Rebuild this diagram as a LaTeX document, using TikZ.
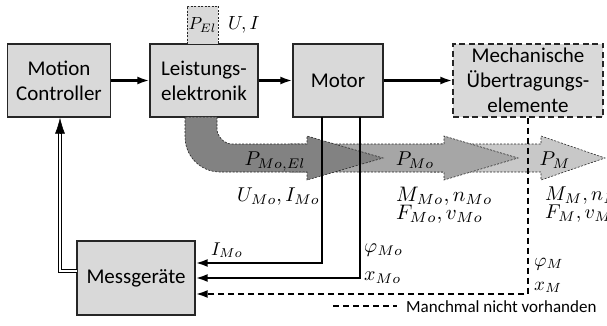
\documentclass[tikz,border=0pt]{standalone}
\usepackage{graphicx}
\usepackage{fontspec}
\setmainfont{Carlito}
\usetikzlibrary{arrows.meta}
\definecolor{boxgray}{HTML}{D9D9D9}
\definecolor{pdark}{HTML}{828282}
\definecolor{pmid}{HTML}{A6A6A6}
\definecolor{plight}{HTML}{C8C8C8}
\newcommand\mth[2]{\scalebox{#1}{$#2$}}
\begin{document}
\begin{tikzpicture}[x=1pt,y=-1pt,
  box/.style={draw=black!85, line width=1.4pt, fill=boxgray, inner sep=0pt,
    align=center, font=\fontsize{21}{25}\selectfont},
  dbox/.style={box, dash pattern=on 6pt off 3.5pt},
  conn/.style={line width=2.1pt, -{Latex[length=12pt,width=8pt]}},
  dconn/.style={conn, dash pattern=on 6pt off 4pt},
  wire/.style={line width=2.1pt},
  band/.style={draw=black!85, line width=0.6pt, dash pattern=on 2pt off 1.5pt},
  lbl/.style={anchor=base, inner sep=0pt, font=\normalsize},
  lblw/.style={lbl, anchor=base west}]
\useasboundingbox (0,0) rectangle (607,326);

% boxes
\node[box, minimum width=103pt, minimum height=73pt] (mc) at (59,80.5) {Motion\\Controller};
\node[box, minimum width=108pt, minimum height=73pt] (le) at (204,80.5) {Leistungs-\\elektronik};
\node[box, minimum width=90pt, minimum height=73pt] (mot) at (338,80.5) {Motor};
\node[dbox, minimum width=150pt, minimum height=73pt] (mech) at (528,80.5) {Mechanische\\Übertragungs-\\elemente};
\node[box, line width=0.8pt, dash pattern=on 2pt off 1.5pt, minimum width=31pt, minimum height=38pt] (pel) at (202.5,25) {};
\node[box, minimum width=118pt, minimum height=74pt] (mg) at (136,278) {Messgeräte};

% power band (light, mid, dark)
\path[band, fill=plight] (430,144) -- (541,144) -- (541,136) -- (605,158) -- (541,180) -- (541,172) -- (430,172) -- cycle;
\path[band, fill=pmid] (290,144) -- (444,144) -- (444,136) -- (518,158) -- (444,180) -- (444,172) -- (290,172) -- cycle;
\path[band, fill=pdark] (185,117) -- (185,137) .. controls (185,156.3) and (200.7,172) .. (220,172)
  -- (307,172) -- (307,180) -- (383,158) -- (307,136) -- (307,144) -- (232,144)
  .. controls (223.7,144) and (217,135.7) .. (217,129) -- (217,117) -- cycle;

% signal flow
\draw[conn] (mc) -- (le);
\draw[conn] (le) -- (mot);
\draw[conn] (mot) -- (mech);

% measurement lines
\coordinate (t1) at (322,117);
\coordinate (c1) at (322,263);
\coordinate (t2) at (360,117);
\coordinate (c2) at (360,278);
\coordinate (c3) at (mech.south |- 0,294);
\draw[conn] (t1) -- (c1) -- (mg.east |- c1);
\draw[conn] (t2) -- (c2) -- (mg.east |- c2);
\draw[dconn] (mech.south) -- (c3) -- (mg.east |- c3);

% feedback (double line)
\coordinate (d1) at (77,271);
\coordinate (d2) at (60,271);
\coordinate (d3) at (60,133);
\draw[line width=0.9pt, double=white, double distance=1.6pt] (d1) -- (d2) -- (d3);
\draw[line width=0.6pt, -{Latex[length=16pt,width=10pt]}] (d3) -- (mc.south -| d3);

% labels
\node[lbl] (lpel) at (pel.center |- 0,30) {\mth{1.75}{P_{El}}};
\node[lblw] (lui) at (228,30) {\mth{1.9}{U,I}};
\node[lbl] (lpmoel) at (275,165) {\mth{2.0}{P_{Mo,El}}};
\node[lbl] (lpmo) at (415,165) {\mth{2.0}{P_{Mo}}};
\node[lbl] (lpm) at (555,165) {\mth{2.0}{P_{M}}};
\node[lbl, anchor=base east] (lumo) at (320,201) {\mth{2.0}{U_{Mo},I_{Mo}}};
\node[lblw] (lmmo) at (396,201) {\mth{2.1}{M_{Mo},n_{Mo}}};
\node[lblw] (lfmo) at (396,219) {\mth{2.1}{F_{Mo},v_{Mo}}};
\node[lblw] (lmm) at (545,200) {\mth{2.0}{M_{M},n_{M}}};
\node[lblw] (lfm) at (545,218) {\mth{2.0}{F_{M},v_{M}}};
\node[lblw] (lphimo) at (364,252) {\mth{2.0}{\varphi_{Mo}}};
\node[lblw] (lxmo) at (364,280) {\mth{2.0}{x_{Mo}}};
\node[lblw] (lphim) at (534,266) {\mth{1.9}{\varphi_{M}}};
\node[lblw] (lxm) at (534,290) {\mth{1.9}{x_{M}}};
\node[lbl] (limo) at (227,255) {\mth{1.85}{I_{Mo}}};

% legend
\coordinate (g1) at (333,306);
\coordinate (g2) at (397,306);
\draw[wire, dash pattern=on 6pt off 4pt] (g1) -- (g2);
\node[anchor=base west, inner sep=0pt, font=\fontsize{17}{20}\selectfont] (legend) at (406,312) {Manchmal nicht vorhanden};
\end{tikzpicture}
\end{document}
